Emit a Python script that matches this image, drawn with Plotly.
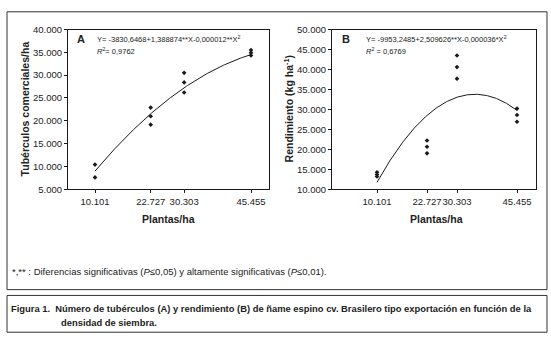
import numpy as np
import plotly.graph_objects as go

# ---------------- data ----------------
densities = [10101, 22727, 30303, 45455]
density_labels = ["10.101", "22.727", "30.303", "45.455"]

# Panel A: commercial tubers / ha (replicates per density)
tub_x = [10101, 10101, 22727, 22727, 22727, 30303, 30303, 30303, 45455, 45455, 45455]
tub_y = [10400, 7600, 22900, 21000, 19150, 30500, 28400, 26200, 35500, 34900, 34300]
coefA = [-3830.6468, 1.388874, -0.000012]

# Panel B: yield kg/ha
ren_x = [10101, 10101, 10101, 22727, 22727, 22727, 30303, 30303, 30303, 45455, 45455, 45455]
ren_y = [14250, 13700, 13200, 22200, 20650, 19000, 43500, 40600, 37700, 30200, 28600, 26900]
coefB = [-9953.2485, 2.509626, -0.000036]

yA_ticks = [5000, 10000, 15000, 20000, 25000, 30000, 35000, 40000]
yB_ticks = [10000, 15000, 20000, 25000, 30000, 35000, 40000, 45000, 50000]

# ---------------- layout helpers ----------------
W, H = 551, 344
def px(x): return x / W
def py(y): return 1 - y / H

FONT = "Liberation Sans Narrow, Liberation Sans, Arial, sans-serif"
DARK = "#1a1a1a"

xs = np.linspace(densities[0], densities[-1], 200)
fitA = coefA[0] + coefA[1] * xs + coefA[2] * xs ** 2
fitB = coefB[0] + coefB[1] * xs + coefB[2] * xs ** 2

fig = go.Figure()
mk = dict(symbol="diamond", size=3.6, color=DARK)
fig.add_trace(go.Scatter(x=xs, y=fitA, mode="lines", line=dict(color=DARK, width=1),
                         xaxis="x", yaxis="y", hoverinfo="skip"))
fig.add_trace(go.Scatter(x=tub_x, y=tub_y, mode="markers", marker=mk, xaxis="x", yaxis="y"))
fig.add_trace(go.Scatter(x=xs, y=fitB, mode="lines", line=dict(color=DARK, width=1),
                         xaxis="x2", yaxis="y2", hoverinfo="skip"))
fig.add_trace(go.Scatter(x=ren_x, y=ren_y, mode="markers", marker=mk, xaxis="x2", yaxis="y2"))

axis_common = dict(showgrid=False, zeroline=False, showline=True, linecolor=DARK, linewidth=1,
                   mirror=True, ticks="outside", ticklen=3, tickcolor=DARK, tickangle=0,
                   tickfont=dict(family=FONT, size=9.5, color="#222"))

fig.update_layout(
    width=W, height=H, margin=dict(l=0, r=0, t=0, b=0),
    paper_bgcolor="white", plot_bgcolor="white", showlegend=False,
    separators=",.",
    xaxis=dict(domain=[px(68), px(269)], range=[3982, 49534], anchor="y",
               tickvals=densities, ticktext=density_labels, **axis_common),
    yaxis=dict(domain=[py(189.3), py(24.3)], range=[5000, 40000], anchor="x",
               tickvals=yA_ticks, tickformat=",d", **axis_common),
    xaxis2=dict(domain=[px(332), px(536)], range=[-1263, 50253], anchor="y2",
                tickvals=densities, ticktext=density_labels, **axis_common),
    yaxis2=dict(domain=[py(189.3), py(24.3)], range=[10000, 50000], anchor="x2",
                tickvals=yB_ticks, tickformat=",d", **axis_common),
)

ann = []
def txt(x, y, s, size=8, xanchor="left", yanchor="middle", angle=0, color="#222"):
    ann.append(dict(x=px(x), y=py(y), xref="paper", yref="paper", text=s, showarrow=False,
                    xanchor=xanchor, yanchor=yanchor, textangle=angle,
                    font=dict(family=FONT, size=size, color=color)))

# axis titles
txt(168.5, 220, "<b>Plantas/ha</b>", size=10.5, xanchor="center")
txt(436, 220, "<b>Plantas/ha</b>", size=10.5, xanchor="center")
txt(25, 106.8, "<b>Tubérculos comerciales/ha</b>", size=10.5, xanchor="center", angle=-90)
txt(288, 106.8, "<b>Rendimiento (kg ha<sup>-1</sup>)</b>", size=10.5, xanchor="center", angle=-90)

# panel letters and equations
txt(75, 34, "<b>A</b>", size=11)
txt(95, 34, "Y= -3830,6468+1,388874**X-0,000012**X<sup>2</sup>", size=7.5)
txt(95, 47, "<i>R</i><sup>2</sup>= 0,9762", size=7.5)
txt(340, 34, "<b>B</b>", size=11)
txt(364, 34, "Y= -9953,2485+2,509626**X-0,000036*X<sup>2</sup>", size=7.5)
txt(364, 47, "<i>R</i><sup>2</sup> = 0,6769", size=7.5)

# footnote
txt(10, 274, "*,** : Diferencias significativas (<i>P</i>≤0,05) y altamente significativas (<i>P</i>≤0,01).",
    size=9.5)
# caption
txt(9, 313, "<b>Figura 1.  Número de tubérculos (A) y rendimiento (B) de ñame espino cv. Brasilero tipo exportación en función de la</b>",
    size=9.4)
txt(59, 327, "<b>densidad de siembra.</b>", size=9.4)

fig.update_layout(annotations=ann)

fig.update_layout(shapes=[
    dict(type="rect", xref="paper", yref="paper", x0=px(7), x1=px(547), y0=py(293), y1=py(6),
         line=dict(color="#333", width=1)),
    dict(type="rect", xref="paper", yref="paper", x0=px(7), x1=px(547), y0=py(337), y1=py(299),
         line=dict(color="#333", width=1)),
])

fig.write_html("out.html", config={"displayModeBar": False},
               post_script="document.body.style.margin='0';document.body.style.overflow='hidden';")
